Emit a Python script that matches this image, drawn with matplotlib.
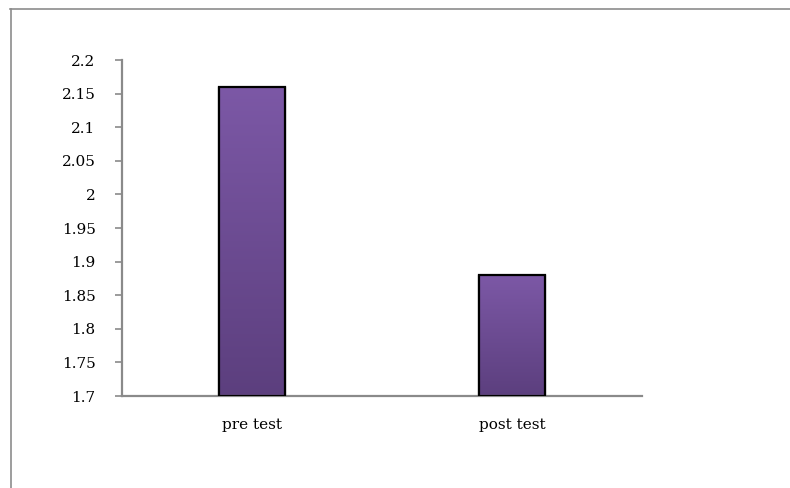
import numpy as np
import matplotlib.pyplot as plt
from matplotlib.colors import LinearSegmentedColormap
from matplotlib.lines import Line2D

# Mean scores for the two tests
categories = ['pre test', 'post test']
scores = [2.16, 1.88]
y_ticks = [1.7, 1.75, 1.8, 1.85, 1.9, 1.95, 2, 2.05, 2.1, 2.15, 2.2]
y_tick_labels = ['1.7', '1.75', '1.8', '1.85', '1.9', '1.95', '2', '2.05', '2.1', '2.15', '2.2']

plt.rcParams['font.family'] = ['DejaVu Serif']

fig = plt.figure(figsize=(7.9, 4.88), dpi=100)
ax = fig.add_axes([122 / 790, 1 - 396 / 488, 520 / 790, 336 / 488])

# chart frame (top and left edges only visible)
fig.add_artist(Line2D([10 / 790, 1], [1 - 8.5 / 488] * 2, color='#8c8c8c', lw=1.2))
fig.add_artist(Line2D([10.5 / 790] * 2, [0, 1 - 8.5 / 488], color='#8c8c8c', lw=1.2))

ymin = y_ticks[0]
x = np.arange(len(categories))
width = 0.255
bars = ax.bar(x, np.array(scores) - ymin, width, bottom=ymin, color='none',
              edgecolor='black', linewidth=1.6, zorder=3)

# vertical purple gradient inside each bar
cmap = LinearSegmentedColormap.from_list('purp', ['#5c3f7e', '#7c58a6'])
grad = np.linspace(0, 1, 256).reshape(-1, 1)
for b in bars:
    x0, y0 = b.get_x(), b.get_y()
    w, h = b.get_width(), b.get_height()
    # soft shadow around the bar
    ax.bar(x0 + w / 2, h, w * 1.06, bottom=y0, color='#000000', alpha=0.08,
           linewidth=0, zorder=1)
    im = ax.imshow(grad, cmap=cmap, origin='lower', aspect='auto',
                   extent=[x0, x0 + w, y0, y0 + h], zorder=2)
    im.set_clip_path(b)

ax.set_xlim(-0.5, 1.5)
ax.set_ylim(1.7, 2.2)
ax.set_yticks(y_ticks)
ax.set_yticklabels(y_tick_labels)
ax.set_xticks(x)
ax.set_xticklabels(categories)

for s in ['top', 'right']:
    ax.spines[s].set_visible(False)
for s in ['left', 'bottom']:
    ax.spines[s].set_color('#8a8a8a')
    ax.spines[s].set_linewidth(1.6)

ax.tick_params(axis='y', length=5, width=1.2, color='#8a8a8a', labelsize=11, pad=14)
ax.tick_params(axis='x', length=0, labelsize=11, pad=16)

fig.savefig('out.png', dpi=100)
